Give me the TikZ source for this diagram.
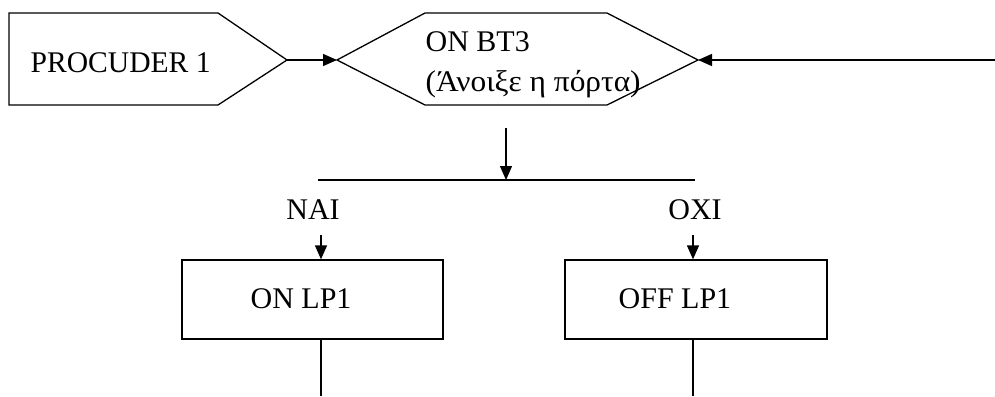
\documentclass[tikz,border=0pt]{standalone}
\usepackage{fontspec}
\usepackage{graphicx}
\setmainfont{Liberation Serif}
\usetikzlibrary{arrows.meta}
\begin{document}
\begin{tikzpicture}[x=1pt,y=-1pt,
  line width=1.3pt,
  flow/.style={-{Triangle[length=14pt,width=12pt]}},
  lbl/.style={inner sep=0pt,font=\fontsize{30}{36}\selectfont},
  actbox/.style={draw,rectangle,inner sep=0pt,minimum height=79pt}]
\useasboundingbox (0,0) rectangle (995,396);

% PROCUDER 1 pentagon
\coordinate (p1tip) at (287,60);
\draw (9,13) -- (218,13) -- (p1tip) -- (218,105) -- (9,105) -- cycle;
\node[lbl,anchor=base west] (p1) at (30,73) {\resizebox{180pt}{\height}{PROCUDER 1}};

% hexagon ON BT3
\coordinate (hexL) at (337,60);
\coordinate (hexR) at (698,60);
\draw (hexL) -- (425,13) -- (607,13) -- (hexR) -- (607,105) -- (425,105) -- cycle;
\node[lbl,anchor=base west] (bt3) at (425,52) {ON BT3};
\node[lbl,anchor=base west] (bt3gr) at (425,91) {\resizebox{215pt}{\height}{(Άνοιξε η πόρτα)}};

% incoming connectors
\coordinate (rin) at (995,60);
\draw[flow] (p1tip) -- (hexL);
\draw[flow] (rin) -- (hexR);

% decision split
\coordinate (dtop) at (506,128);
\coordinate (split) at (506,180);
\coordinate (splitL) at (318,180);
\coordinate (splitR) at (695,180);
\draw[flow] (dtop) -- (split);
\draw (splitL) -- (splitR);

\node[lbl,anchor=base] (nai) at (313,219) {NAI};
\node[lbl,anchor=base] (oxi) at (695,219) {OXI};

% action boxes
\node[actbox,minimum width=261pt] (lp1on) at (312.5,299.5) {};
\node[actbox,minimum width=262pt] (lp1off) at (696,299.5) {};
\node[lbl,anchor=base west] (lp1ontxt) at (250,308) {ON LP1};
\node[lbl,anchor=base west] (lp1offtxt) at (618,308) {OFF LP1};

\coordinate (naiA) at (321,235);
\coordinate (oxiA) at (693,235);
\draw[flow] (naiA) -- (naiA |- lp1on.north);
\draw[flow] (oxiA) -- (oxiA |- lp1off.north);

% outgoing lines
\coordinate (outL) at (321,396);
\coordinate (outR) at (693,396);
\draw (outL |- lp1on.south) -- (outL);
\draw (outR |- lp1off.south) -- (outR);
\end{tikzpicture}
\end{document}
